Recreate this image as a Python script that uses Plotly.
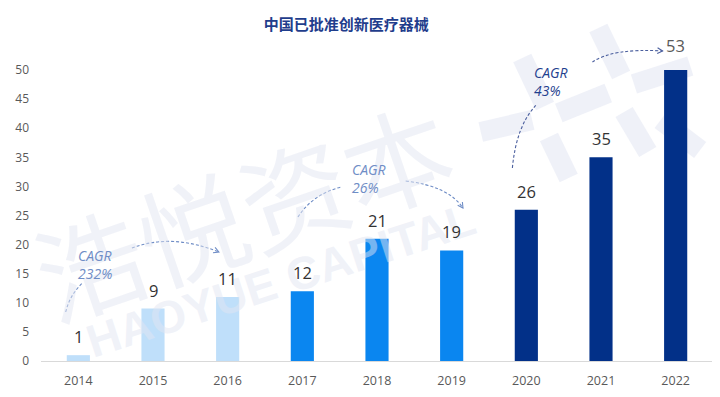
import math
import plotly.graph_objects as go

years = ["2014", "2015", "2016", "2017", "2018", "2019", "2020", "2021", "2022"]
approvals = [1, 9, 11, 12, 21, 19, 26, 35, 53]
bar_colors = ["#BFDFFA", "#BFDFFA", "#BFDFFA",
              "#0A86F0", "#0A86F0", "#0A86F0",
              "#023088", "#023088", "#023088"]
label_colors = ["#333333"] * 8 + ["#595959"]
y_ticks = [0, 5, 10, 15, 20, 25, 30, 35, 40, 45, 50]
cagr_texts = ["CAGR<br>232%", "CAGR<br>26%", "CAGR<br>43%"]

# page has an 8px body margin: figure origin sits at (8, 8)
OFF = 8
W, H = 720 - OFF, 397 - OFF
L, R, T, B = 33 - OFF, 7, 70 - OFF, 36
PW, PH = W - L - R, H - T - B


def px(x, y):
    # page pixel -> paper coordinates
    return (x - OFF - L) / PW, (H - B - (y - OFF)) / PH


def path_q(p0, c, p1):
    a = px(*p0); b = px(*c); d = px(*p1)
    return f"M {a[0]},{a[1]} Q {b[0]},{b[1]} {d[0]},{d[1]}"


def arrow_head(tip, frm, size=6):
    dx, dy = tip[0] - frm[0], tip[1] - frm[1]
    n = math.hypot(dx, dy)
    ux, uy = dx / n, dy / n
    pts = []
    for ang in (0.5, -0.5):
        ca, sa = math.cos(ang), math.sin(ang)
        rx = ux * ca - uy * sa
        ry = ux * sa + uy * ca
        pts.append((tip[0] - rx * size, tip[1] - ry * size))
    a = px(*pts[0]); t = px(*tip); b = px(*pts[1])
    return f"M {a[0]},{a[1]} L {t[0]},{t[1]} L {b[0]},{b[1]}"


fig = go.Figure()
fig.add_trace(go.Bar(
    x=years, y=approvals, marker=dict(color=bar_colors, line=dict(width=0)),
    width=0.31, hoverinfo="x+y", cliponaxis=True,
))

shapes = []
# watermark logo strokes
wm = "rgba(226,229,242,0.55)"
for (x0, y0, x1, y1) in [(597, 28, 620, 75), (520, 58, 543, 106), (557, 113, 607, 93),
                         (633, 84, 690, 66), (623, 112, 647, 152), (547, 137, 567, 178),
                         (478, 132, 530, 120), (660, 120, 700, 150)]:
    a = px(x0, y0); b = px(x1, y1)
    shapes.append(dict(type="line", xref="paper", yref="paper", x0=a[0], y0=a[1],
                       x1=b[0], y1=b[1], line=dict(color=wm, width=20), layer="below"))

c1 = "#6F8DC6"
c3 = "#4B5F9E"
curves = [
    ((58, 312), (62, 295), (75, 283), c1, False),
    ((125, 248), (165, 233), (213, 252), c1, True),
    ((293, 217), (308, 194), (337, 187), c1, False),
    ((402, 181), (445, 186), (460, 208), c1, True),
    ((510, 168), (514, 125), (535, 104), c3, False),
    ((591, 62), (612, 48), (662, 51), c3, True),
]
for p0, c, p1, col, head in curves:
    shapes.append(dict(type="path", xref="paper", yref="paper", path=path_q(p0, c, p1),
                       line=dict(color=col, width=1.1, dash="3px,2px")))
    if head:
        shapes.append(dict(type="path", xref="paper", yref="paper", path=arrow_head(p1, c),
                           line=dict(color=col, width=1.1)))

annotations = []
# watermark text
p = px(236, 208)
annotations.append(dict(text="浩悦资本", x=p[0], y=p[1], xref="paper", yref="paper",
                        xanchor="center", yanchor="middle",
                        showarrow=False, textangle=-19,
                        font=dict(size=108, color="rgba(225,229,242,0.5)", family="Noto Sans CJK SC")))
p = px(276, 280)
annotations.append(dict(text="<b>HAOYUE CAPITAL</b>", x=p[0], y=p[1],
                        xref="paper", yref="paper", showarrow=False, textangle=-18,
                        xanchor="center", yanchor="middle",
                        font=dict(size=46, color="rgba(225,229,242,0.5)", family="Liberation Sans")))

for i, (v, lc) in enumerate(zip(approvals, label_colors)):
    annotations.append(dict(x=i, y=min(v, 50), xref="x", yref="y", text=str(v), showarrow=False,
                            yanchor="bottom", yshift=5 if v <= 50 else 11,
                            font=dict(size=16.5, color=lc, family="Open Sans, Liberation Sans")))

cagr_pos = [(88, 264), (365, 178), (549, 82)]
cagr_cols = [c1, c1, "#1F3F8F"]
for t, (x, y), col in zip(cagr_texts, cagr_pos, cagr_cols):
    p = px(x, y)
    annotations.append(dict(text=f"<i>{t}</i>", x=p[0], y=p[1], xref="paper", yref="paper",
                            showarrow=False, align="left", xanchor="center", yanchor="middle",
                            font=dict(size=14, color=col, family="Open Sans, Liberation Sans")))

fig.update_layout(
    width=W, height=H,
    margin=dict(l=L, r=R, t=T, b=B),
    plot_bgcolor="white", paper_bgcolor="white",
    showlegend=False,
    title=dict(text="<b>中国已批准创新医疗器械</b>", x=0.475, xanchor="center", y=0.958, yanchor="middle",
               font=dict(size=15, color="#1F3D8C", family="Noto Sans CJK SC")),
    xaxis=dict(type="category", range=[-0.5, len(years) - 0.5], autorange=False,
               showgrid=False, showline=True, linecolor="#D9D9D9", linewidth=1,
               ticks="", tickfont=dict(size=12.5, color="#595959", family="Open Sans, Liberation Sans"),
               ticklabelstandoff=8),
    yaxis=dict(range=[0, 50], autorange=False, tickvals=y_ticks, showgrid=False, zeroline=False,
               showline=False,
               tickfont=dict(size=12, color="#595959", family="Open Sans, Liberation Sans"),
               ticklabelstandoff=11),
    shapes=shapes,
    annotations=annotations,
)

fig.write_html("out.html")
